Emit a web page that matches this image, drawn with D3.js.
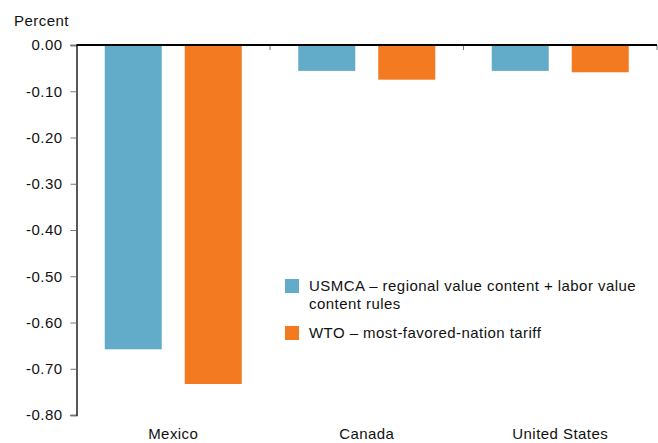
<!DOCTYPE html>
<html>
<head>
<meta charset="utf-8">
<script src="https://cdn.jsdelivr.net/npm/d3@7"></script>
<style>
  body { margin: 0; background: #fff; }
  text { font-family: "Liberation Sans", Arial, sans-serif; fill: #111; letter-spacing: 0.45px; }
</style>
</head>
<body>
<div id="chart"></div>
<script>
var svgWidth = 658;
var svgHeight = 443;

var margin = { top: 45, right: 1, bottom: 28, left: 76.5 };
var width = svgWidth - margin.left - margin.right;
var height = svgHeight - margin.top - margin.bottom;

// data
var countries = ["Mexico", "Canada", "United States"];
var seriesNames = ["USMCA \u2013 regional value content + labor value content rules",
  "WTO \u2013 most-favored-nation tariff"];
var usmcaValues = [-0.658, -0.056, -0.056];
var wtoValues = [-0.733, -0.075, -0.059];
var yTicks = [0, -0.1, -0.2, -0.3, -0.4, -0.5, -0.6, -0.7, -0.8];
var colors = ["#63acc9", "#f47a22"];

var fontSize = 15;

var svg = d3.select("#chart")
  .append("svg")
  .attr("width", svgWidth)
  .attr("height", svgHeight);

var chartGroup = svg.append("g")
  .attr("transform", `translate(${margin.left}, ${margin.top})`);

var x0 = d3.scaleBand()
  .domain(countries)
  .range([0, width]);

var x1 = d3.scaleBand()
  .domain([0, 1])
  .range([0, x0.bandwidth()])
  .paddingInner(0.2875)
  .paddingOuter(0.353);

var y = d3.scaleLinear()
  .domain([-0.8, 0])
  .range([height, 0]);

// y axis
var yAxis = chartGroup.append("g")
  .call(d3.axisLeft(y).tickValues(yTicks).tickSize(6).tickPadding(8));
yAxis.select(".domain").attr("stroke", "#000").attr("stroke-width", 1.3);
yAxis.selectAll(".tick line").attr("stroke", "#777");
yAxis.selectAll(".tick text")
  .attr("font-size", fontSize)
  .attr("fill", "#111")
  .text(d => d.toFixed(2).replace("-0.00", "0.00"));

svg.append("text")
  .attr("x", 14)
  .attr("y", 26)
  .attr("font-size", fontSize)
  .text("Percent");

// bars
var rows = countries.map((c, i) => ({ country: c, values: [usmcaValues[i], wtoValues[i]] }));

var groups = chartGroup.selectAll(".country")
  .data(rows)
  .enter()
  .append("g")
  .attr("transform", d => `translate(${x0(d.country)}, 0)`);

groups.selectAll("rect")
  .data(d => d.values.map((v, k) => ({ k: k, v: v })))
  .enter()
  .append("rect")
  .attr("x", d => x1(d.k))
  .attr("y", y(0))
  .attr("width", x1.bandwidth())
  .attr("height", d => y(d.v) - y(0))
  .attr("fill", d => colors[d.k]);

// category ticks along zero line
chartGroup.selectAll(".cattick")
  .data(countries.slice(1).map(c => x0(c)).concat([width]))
  .enter()
  .append("line")
  .attr("x1", d => d)
  .attr("x2", d => d)
  .attr("y1", y(0))
  .attr("y2", y(0) + 5)
  .attr("stroke", "#777");

// zero line
chartGroup.append("line")
  .attr("x1", 0)
  .attr("x2", width)
  .attr("y1", y(0))
  .attr("y2", y(0))
  .attr("stroke", "#000")
  .attr("stroke-width", 2);

// category labels
chartGroup.selectAll(".catlabel")
  .data(countries)
  .enter()
  .append("text")
  .attr("x", d => x0(d) + x0.bandwidth() / 2)
  .attr("y", height + 24)
  .attr("text-anchor", "middle")
  .attr("font-size", fontSize)
  .text(d => d);

// legend
var legend = svg.append("g");
var legendLines = [["USMCA \u2013 regional value content + labor value", "content rules"],
  ["WTO \u2013 most-favored-nation tariff"]];
var legendY = [279, 326];

legendLines.forEach(function(lines, i) {
  legend.append("rect")
    .attr("x", 285)
    .attr("y", legendY[i])
    .attr("width", 14)
    .attr("height", 14)
    .attr("fill", colors[i]);
  var t = legend.append("text")
    .attr("x", 309)
    .attr("y", legendY[i] + 12)
    .attr("font-size", fontSize);
  lines.forEach(function(line, j) {
    t.append("tspan")
      .attr("x", 309)
      .attr("dy", j === 0 ? 0 : 17.5)
      .text(line);
  });
});
</script>
</body>
</html>
